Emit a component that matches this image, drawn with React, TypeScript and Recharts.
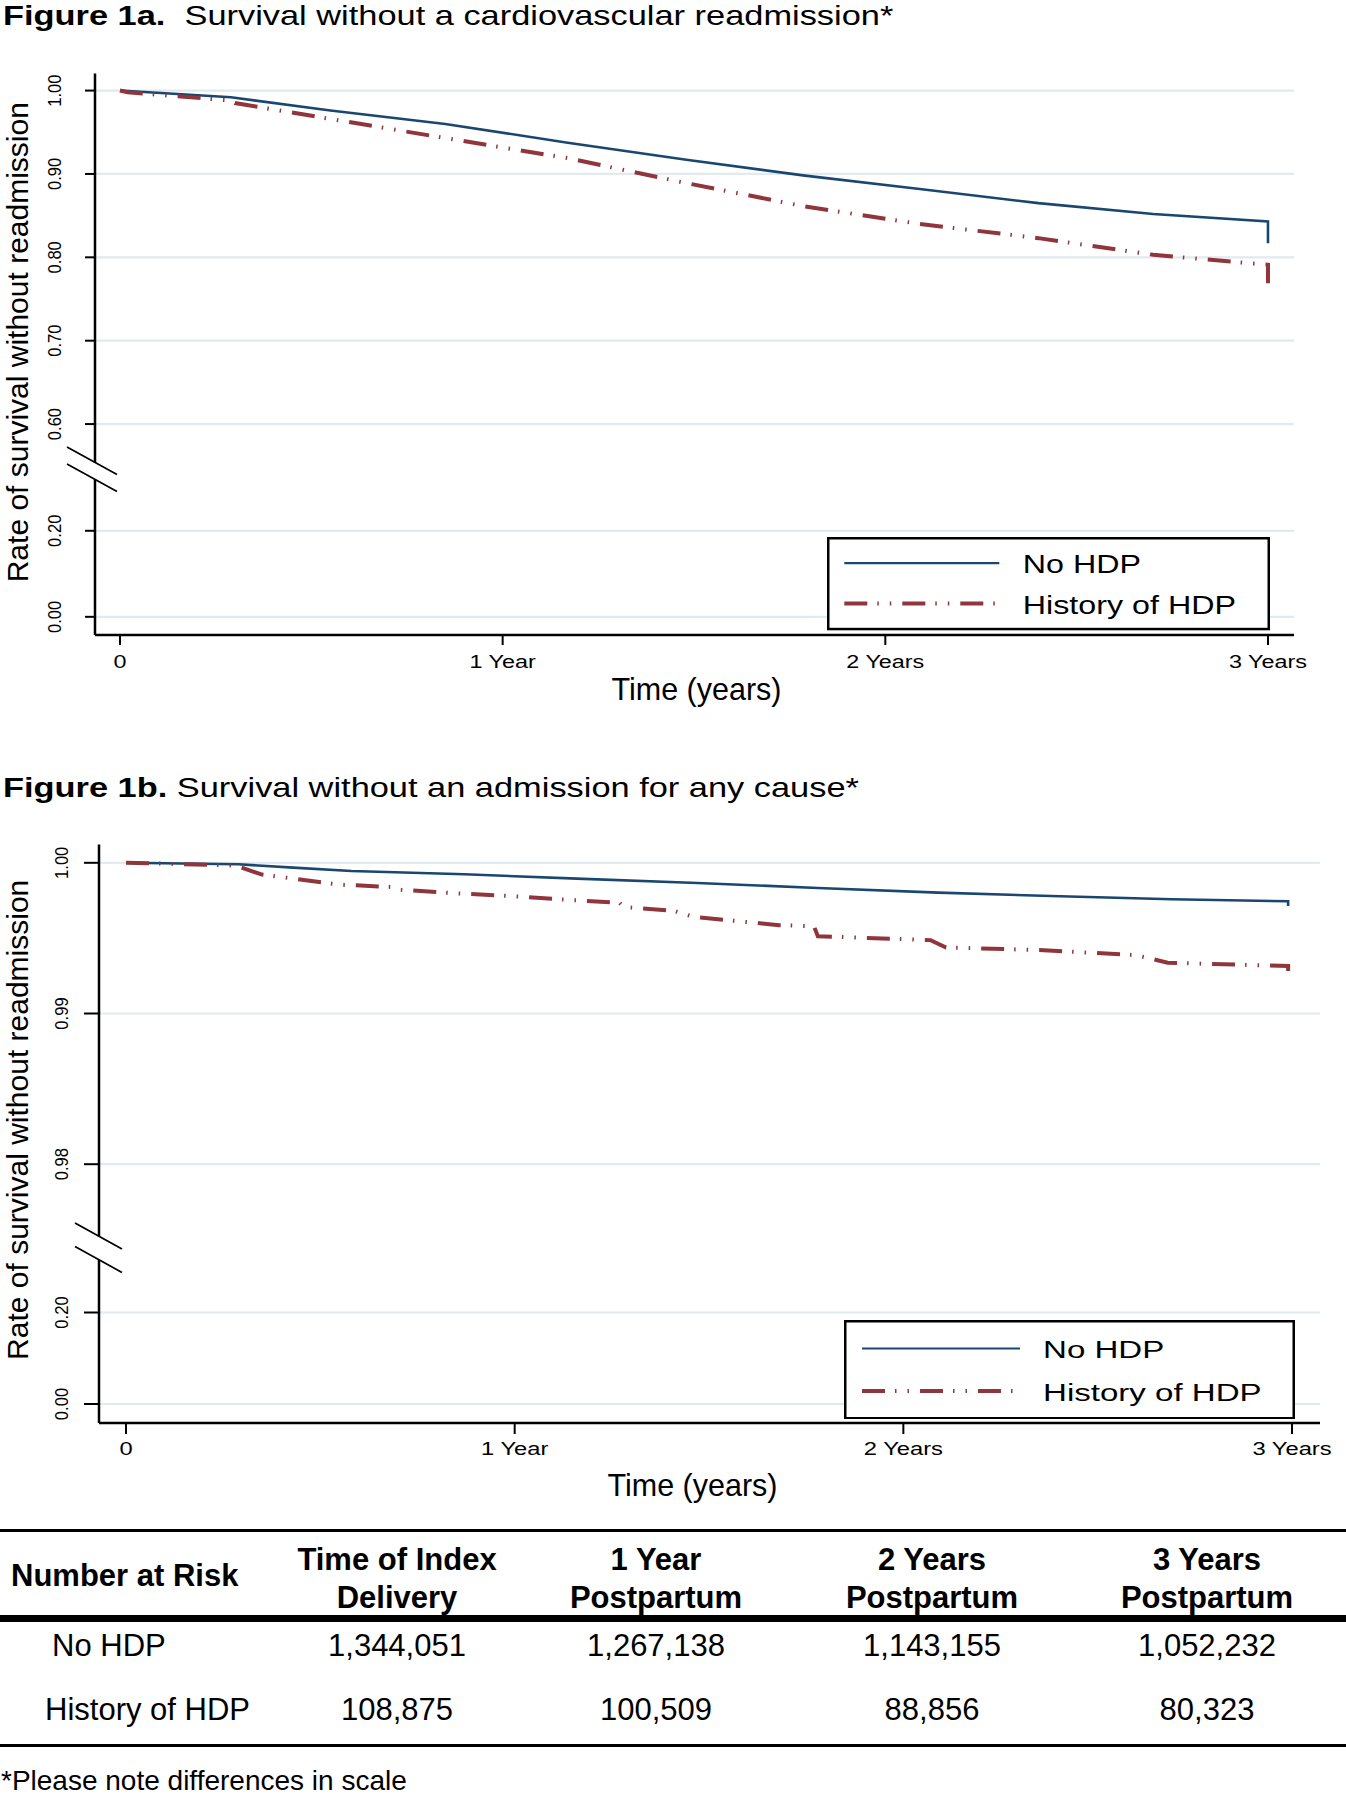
import React from 'react';
import {
  LineChart,
  Line,
  XAxis,
  YAxis,
  CartesianGrid,
  Legend,
  ReferenceLine,
  ReferenceDot,
} from 'recharts';

// ---------------- data ----------------
const xTickValues = [0, 1, 2, 3];
const xTickLabels = ['0', '1 Year', '2 Years', '3 Years'];
const seriesNames = ['No HDP', 'History of HDP'];

const yTickValues1a = [0, 0.2, 0.6, 0.7, 0.8, 0.9, 1.0];
const yTickLabels1a = ['0.00', '0.20', '0.60', '0.70', '0.80', '0.90', '1.00'];
const yTickValues1b = [0, 0.2, 0.98, 0.99, 1.0];
const yTickLabels1b = ['0.00', '0.20', '0.98', '0.99', '1.00'];

// Figure 1a: survival without a cardiovascular readmission
const time1aNoHdp = [0, 0.29, 0.55, 0.85, 1.17, 1.48, 1.79, 2.09, 2.4, 2.7, 3.0, 3.0];
const surv1aNoHdp = [1.0, 0.992, 0.976, 0.96, 0.9375, 0.917, 0.898, 0.882, 0.865, 0.852, 0.843, 0.817];
const time1aHdp = [0, 0.02, 0.29, 0.3, 0.55, 0.85, 1.17, 1.48, 1.79, 2.09, 2.4, 2.7, 2.95, 3.0, 3.0, 3.0];
const surv1aHdp = [1.0, 0.998, 0.988, 0.985, 0.966, 0.943, 0.919, 0.889, 0.861, 0.84, 0.823, 0.803, 0.793, 0.791, 0.777, 0.769];

// Figure 1b: survival without an admission for any cause
const time1bNoHdp = [0, 0.29, 0.43, 0.58, 0.87, 1.16, 1.47, 1.78, 2.09, 2.38, 2.69, 2.99, 2.99];
const surv1bNoHdp = [1.0, 0.9999, 0.99968, 0.99946, 0.99924, 0.99895, 0.99866, 0.99833, 0.99802, 0.9978, 0.99758, 0.99745, 0.99714];
const time1bHdp = [0, 0.28, 0.35, 0.55, 0.68, 0.7, 0.86, 1.0, 1.15, 1.27, 1.28, 1.41, 1.46, 1.53, 1.68, 1.77, 1.78, 2.07, 2.11, 2.35, 2.6, 2.68, 2.99, 2.99];
const surv1bHdp = [1.0, 0.99983, 0.99922, 0.99855, 0.9984, 0.99822, 0.99796, 0.99778, 0.99752, 0.99734, 0.99707, 0.99681, 0.99641, 0.99624, 0.99586, 0.99579, 0.99513, 0.99487, 0.99438, 0.99421, 0.99387, 0.99337, 0.99315, 0.99266];

// Number at risk table
const riskHeadLine1 = ['Time of Index', '1 Year', '2 Years', '3 Years'];
const riskHeadLine2 = ['Delivery', 'Postpartum', 'Postpartum', 'Postpartum'];
const riskGroups = ['No HDP', 'History of HDP'];
const riskNoHdp = [1344051, 1267138, 1143155, 1052232];
const riskHdp = [108875, 100509, 88856, 80323];

// ---------------- styles ----------------
const FONT = '"Liberation Sans", Arial, Helvetica, sans-serif';
const NAVY = '#1a476f';
const MAROON = '#90353b';
const GRID = '#e1eaee';
const RED_DASH = '23 10 1.5 11 1.5 11';

const seriesStyle: Record<string, any> = {
  'No HDP': { stroke: NAVY, width: 2.6, dash: undefined, legendWidth: 2.2 },
  'History of HDP': { stroke: MAROON, width: 4, dash: RED_DASH, legendWidth: 4 },
};

const panel1a = {
  top: 0,
  height: 720,
  margin: { top: 73.4, left: 94, right: 52, bottom: 84 },
  xDomain: [-0.0653, 3.068],
  yDomain: [0.347, 1.0206],
  threshold: 0.6,
  lower: (v: number) => 0.3688 + v * 0.516,
  breakAt: 0.5439,
  breakHalf: 0.0102,
  breakGapPx: 17,
  breakDxL: -28,
  breakDxR: 22,
  breakSlope: 0.55,
  xTickSize: 10,
  xTickMargin: 16,
  xTickSx: 1.25,
  yTickSize: 10,
  yTickMargin: 30,
  xTitleGap: 42.3,
  xTitleShift: 2,
  yTitleX: 17,
  yTitleDy: -12,
  legend: {
    left: 826.7, top: 537.4, w: 443, h: 93.3,
    lx1: 17.3, lx2: 172.3, rows: [26.2, 66.6], textX: 195.8, base: [36.3, 76.6], font: 25.8, sx: 1.25,
  },
};

const panel1b = {
  top: 760,
  height: 770,
  margin: { top: 84.6, left: 98, right: 26, bottom: 106 },
  xDomain: [-0.0695, 3.072],
  yDomain: [0.962827, 1.001208],
  threshold: 0.98,
  lower: (v: number) => 0.964088 + v * 0.030355,
  breakAt: 0.974439,
  breakHalf: 0.00078,
  breakGapPx: 23.5,
  breakDxL: -24,
  breakDxR: 23,
  breakSlope: 0.553,
  xTickSize: 11,
  xTickMargin: 15,
  xTickSx: 1.27,
  yTickSize: 15,
  yTickMargin: 22,
  xTitleGap: 50,
  xTitleShift: -17,
  yTitleX: 17,
  yTitleDy: -14,
  legend: {
    left: 844, top: 559.5, w: 451, h: 99.5,
    lx1: 18, lx2: 176, rows: [28.5, 71], textX: 199, base: [37.5, 81.2], font: 24.5, sx: 1.35,
  },
};

// ---------------- helpers ----------------
const toPoints = (t: number[], v: number[], map: (x: number) => number) =>
  t.map((tt, i) => ({ t: tt, v: map(v[i]) }));

const makeXTick = (sx: number) => (props: any) => {
  const { x, y, payload } = props;
  const idx = xTickValues.indexOf(payload.value);
  return (
    <text
      transform={`translate(${x},${y}) scale(${sx},1)`}
      textAnchor="middle"
      dominantBaseline="central"
      fontSize={18.7}
      fontFamily={FONT}
      fill="#000"
    >
      {idx >= 0 ? xTickLabels[idx] : ''}
    </text>
  );
};

const makeYTick = (values: number[], labels: string[]) => (props: any) => {
  const { x, y, payload } = props;
  const idx = values.findIndex((v) => Math.abs(v - payload.value) < 1e-9);
  return (
    <text
      transform={`translate(${x},${y}) scale(1.15,1) rotate(-90)`}
      textAnchor="middle"
      dominantBaseline="central"
      fontSize={16.6}
      fontFamily={FONT}
      fill="#000"
    >
      {idx >= 0 ? labels[idx] : ''}
    </text>
  );
};

const XTitle = (props: any) => {
  const vb = props.viewBox || { x: 0, y: 0, width: 0, height: 0 };
  const cx = vb.x + vb.width / 2 + props.shiftX;
  const base = vb.y + vb.height + props.gapY + 21.7;
  return (
    <text x={cx} y={base} textAnchor="middle" fontSize={30.5} fontFamily={FONT} fill="#000">
      Time (years)
    </text>
  );
};

const YTitle = (props: any) => {
  const vb = props.viewBox || { x: 0, y: 0, width: 0, height: 0 };
  const cx = props.absX;
  const cy = vb.y + vb.height / 2 + props.shiftY;
  return (
    <text
      transform={`translate(${cx},${cy}) rotate(-90)`}
      textAnchor="middle"
      dominantBaseline="central"
      fontSize={30}
      fontFamily={FONT}
      fill="#000"
    >
      Rate of survival without readmission
    </text>
  );
};

const BreakMark = (props: any) => {
  const { cx, cy, gap, dxL, dxR, slope } = props;
  const l = (off: number) => (
    <line
      x1={cx + dxL}
      y1={cy + off + dxL * slope}
      x2={cx + dxR}
      y2={cy + off + dxR * slope}
    />
  );
  return (
    <g stroke="#000" strokeWidth={1.7}>
      {l(-gap / 2)}
      {l(gap / 2)}
    </g>
  );
};

const LegendBox = ({ payload, cfg }: any) => {
  const items = seriesNames
    .map((name) => (payload || []).find((p: any) => p.value === name))
    .filter(Boolean);
  return (
    <svg width={cfg.w} height={cfg.h} style={{ display: 'block' }}>
      <rect x={1.25} y={1.25} width={cfg.w - 2.5} height={cfg.h - 2.5} fill="#fff" stroke="#000" strokeWidth={2.5} />
      {items.map((item: any, i: number) => {
        const st = seriesStyle[item.value];
        return (
          <g key={item.value}>
            <line
              x1={cfg.lx1}
              x2={cfg.lx2}
              y1={cfg.rows[i]}
              y2={cfg.rows[i]}
              stroke={item.color || st.stroke}
              strokeWidth={st.legendWidth}
              strokeDasharray={st.dash}
            />
            <text
              transform={`translate(${cfg.textX},${cfg.base[i]}) scale(${cfg.sx},1)`}
              fontSize={cfg.font}
              fontFamily={FONT}
              fill="#000"
            >
              {item.value}
            </text>
          </g>
        );
      })}
    </svg>
  );
};

function Panel({ cfg, tNo, vNo, tH, vH, yTicks, yLabels }: any) {
  const mapY = (v: number) => (v >= cfg.threshold ? v : cfg.lower(v));
  const disp = yTicks.map(mapY);
  const blueData = toPoints(tNo, vNo, mapY);
  const redData = toPoints(tH, vH, mapY);
  const xMin = cfg.xDomain[0];
  const [yMin, yMax] = cfg.yDomain;
  const leg = cfg.legend;
  return (
    <div style={{ position: 'absolute', left: 0, top: cfg.top }}>
      <LineChart width={1346} height={cfg.height} margin={cfg.margin}>
        <CartesianGrid
          horizontal
          vertical={false}
          horizontalValues={disp}
          stroke={GRID}
          strokeWidth={2.2}
        />
        <XAxis
          type="number"
          dataKey="t"
          domain={cfg.xDomain}
          ticks={xTickValues}
          interval={0}
          allowDataOverflow
          height={1}
          axisLine={{ stroke: '#000', strokeWidth: 2.5 }}
          tickLine={{ stroke: '#000', strokeWidth: 2 }}
          tickSize={cfg.xTickSize}
          tickMargin={cfg.xTickMargin}
          tick={makeXTick(cfg.xTickSx)}
          label={<XTitle shiftX={cfg.xTitleShift} gapY={cfg.xTitleGap} />}
        />
        <YAxis
          type="number"
          domain={cfg.yDomain}
          ticks={disp}
          interval={0}
          allowDataOverflow
          width={1}
          axisLine={false}
          tickLine={{ stroke: '#000', strokeWidth: 2 }}
          tickSize={cfg.yTickSize}
          tickMargin={cfg.yTickMargin}
          tick={makeYTick(disp, yLabels)}
          label={<YTitle absX={cfg.yTitleX} shiftY={cfg.yTitleDy} />}
        />
        <ReferenceLine
          segment={[
            { x: xMin, y: yMax },
            { x: xMin, y: cfg.breakAt + cfg.breakHalf },
          ]}
          stroke="#000"
          strokeWidth={2.5}
          ifOverflow="visible"
        />
        <ReferenceLine
          segment={[
            { x: xMin, y: cfg.breakAt - cfg.breakHalf },
            { x: xMin, y: yMin },
          ]}
          stroke="#000"
          strokeWidth={2.5}
          ifOverflow="visible"
        />
        <ReferenceDot
          x={xMin}
          y={cfg.breakAt}
          r={0}
          ifOverflow="visible"
          shape={(p: any) => (
            <BreakMark
              cx={p.cx}
              cy={p.cy}
              gap={cfg.breakGapPx}
              dxL={cfg.breakDxL}
              dxR={cfg.breakDxR}
              slope={cfg.breakSlope}
            />
          )}
        />
        <Line
          data={blueData}
          dataKey="v"
          name={seriesNames[0]}
          type="linear"
          stroke={seriesStyle[seriesNames[0]].stroke}
          strokeWidth={seriesStyle[seriesNames[0]].width}
          dot={false}
          activeDot={false}
          isAnimationActive={false}
        />
        <Line
          data={redData}
          dataKey="v"
          name={seriesNames[1]}
          type="linear"
          stroke={seriesStyle[seriesNames[1]].stroke}
          strokeWidth={seriesStyle[seriesNames[1]].width}
          strokeDasharray={seriesStyle[seriesNames[1]].dash}
          dot={false}
          activeDot={false}
          isAnimationActive={false}
        />
        <Legend
          layout="vertical"
          align="center"
          verticalAlign="middle"
          wrapperStyle={{ left: leg.left, top: leg.top, width: leg.w, height: leg.h }}
          content={(props: any) => <LegendBox payload={props.payload} cfg={leg} />}
        />
      </LineChart>
    </div>
  );
}

const baselineTop = (baseline: number, size: number, lh: number) =>
  baseline - ((lh - 1.117 * size) / 2 + 0.905 * size);

const TextAt = ({ x, baseline, size, bold, center, children }: any) => {
  const lh = Math.round(size * 1.2);
  return (
    <div
      style={{
        position: 'absolute',
        left: x,
        top: baselineTop(baseline, size, lh),
        fontSize: size,
        lineHeight: `${lh}px`,
        fontWeight: bold ? 700 : 400,
        whiteSpace: 'pre',
        transform: center ? 'translateX(-50%)' : undefined,
        color: '#000',
      }}
    >
      {children}
    </div>
  );
};

const Rule = ({ top, h }: any) => (
  <div style={{ position: 'absolute', left: 0, width: 1346, top, height: h, background: '#000' }} />
);

const Title = ({ baseline, bold, rest }: any) => {
  const size = 27.5;
  const lh = 33;
  return (
    <div
      style={{
        position: 'absolute',
        left: 3,
        top: baselineTop(baseline, size, lh),
        fontSize: size,
        lineHeight: `${lh}px`,
        whiteSpace: 'pre',
        transform: 'scaleX(1.25)',
        transformOrigin: '0 0',
        color: '#000',
      }}
    >
      <b>{bold}</b>
      {rest}
    </div>
  );
};

const colCenters = [397, 656, 932, 1207];
const fmt = (n: number) => n.toLocaleString('en-US');

export default function App() {
  return (
    <div
      style={{
        position: 'absolute',
        left: 0,
        top: 0,
        width: 1346,
        height: 1800,
        background: '#fff',
        overflow: 'hidden',
        fontFamily: FONT,
      }}
    >
      <Title baseline={25} bold="Figure 1a." rest="  Survival without a cardiovascular readmission*" />
      <Panel
        cfg={panel1a}
        tNo={time1aNoHdp}
        vNo={surv1aNoHdp}
        tH={time1aHdp}
        vH={surv1aHdp}
        yTicks={yTickValues1a}
        yLabels={yTickLabels1a}
      />
      <Title baseline={797} bold="Figure 1b." rest=" Survival without an admission for any cause*" />
      <Panel
        cfg={panel1b}
        tNo={time1bNoHdp}
        vNo={surv1bNoHdp}
        tH={time1bHdp}
        vH={surv1bHdp}
        yTicks={yTickValues1b}
        yLabels={yTickLabels1b}
      />

      {/* Number at risk table */}
      <Rule top={1528.5} h={3} />
      <Rule top={1615} h={6.5} />
      <Rule top={1744} h={3} />
      <TextAt x={11} baseline={1586.7} size={31} bold>
        Number at Risk
      </TextAt>
      {riskHeadLine1.map((s, i) => (
        <TextAt key={'h1' + i} x={colCenters[i]} baseline={1570} size={31} bold center>
          {s}
        </TextAt>
      ))}
      {riskHeadLine2.map((s, i) => (
        <TextAt key={'h2' + i} x={colCenters[i]} baseline={1608.3} size={31} bold center>
          {s}
        </TextAt>
      ))}
      <TextAt x={52} baseline={1656.7} size={31}>
        {riskGroups[0]}
      </TextAt>
      <TextAt x={45} baseline={1720} size={31}>
        {riskGroups[1]}
      </TextAt>
      {riskNoHdp.map((n, i) => (
        <TextAt key={'r1' + i} x={colCenters[i]} baseline={1656.7} size={31} center>
          {fmt(n)}
        </TextAt>
      ))}
      {riskHdp.map((n, i) => (
        <TextAt key={'r2' + i} x={colCenters[i]} baseline={1720} size={31} center>
          {fmt(n)}
        </TextAt>
      ))}
      <TextAt x={1} baseline={1791} size={28}>
        *Please note differences in scale
      </TextAt>
    </div>
  );
}
